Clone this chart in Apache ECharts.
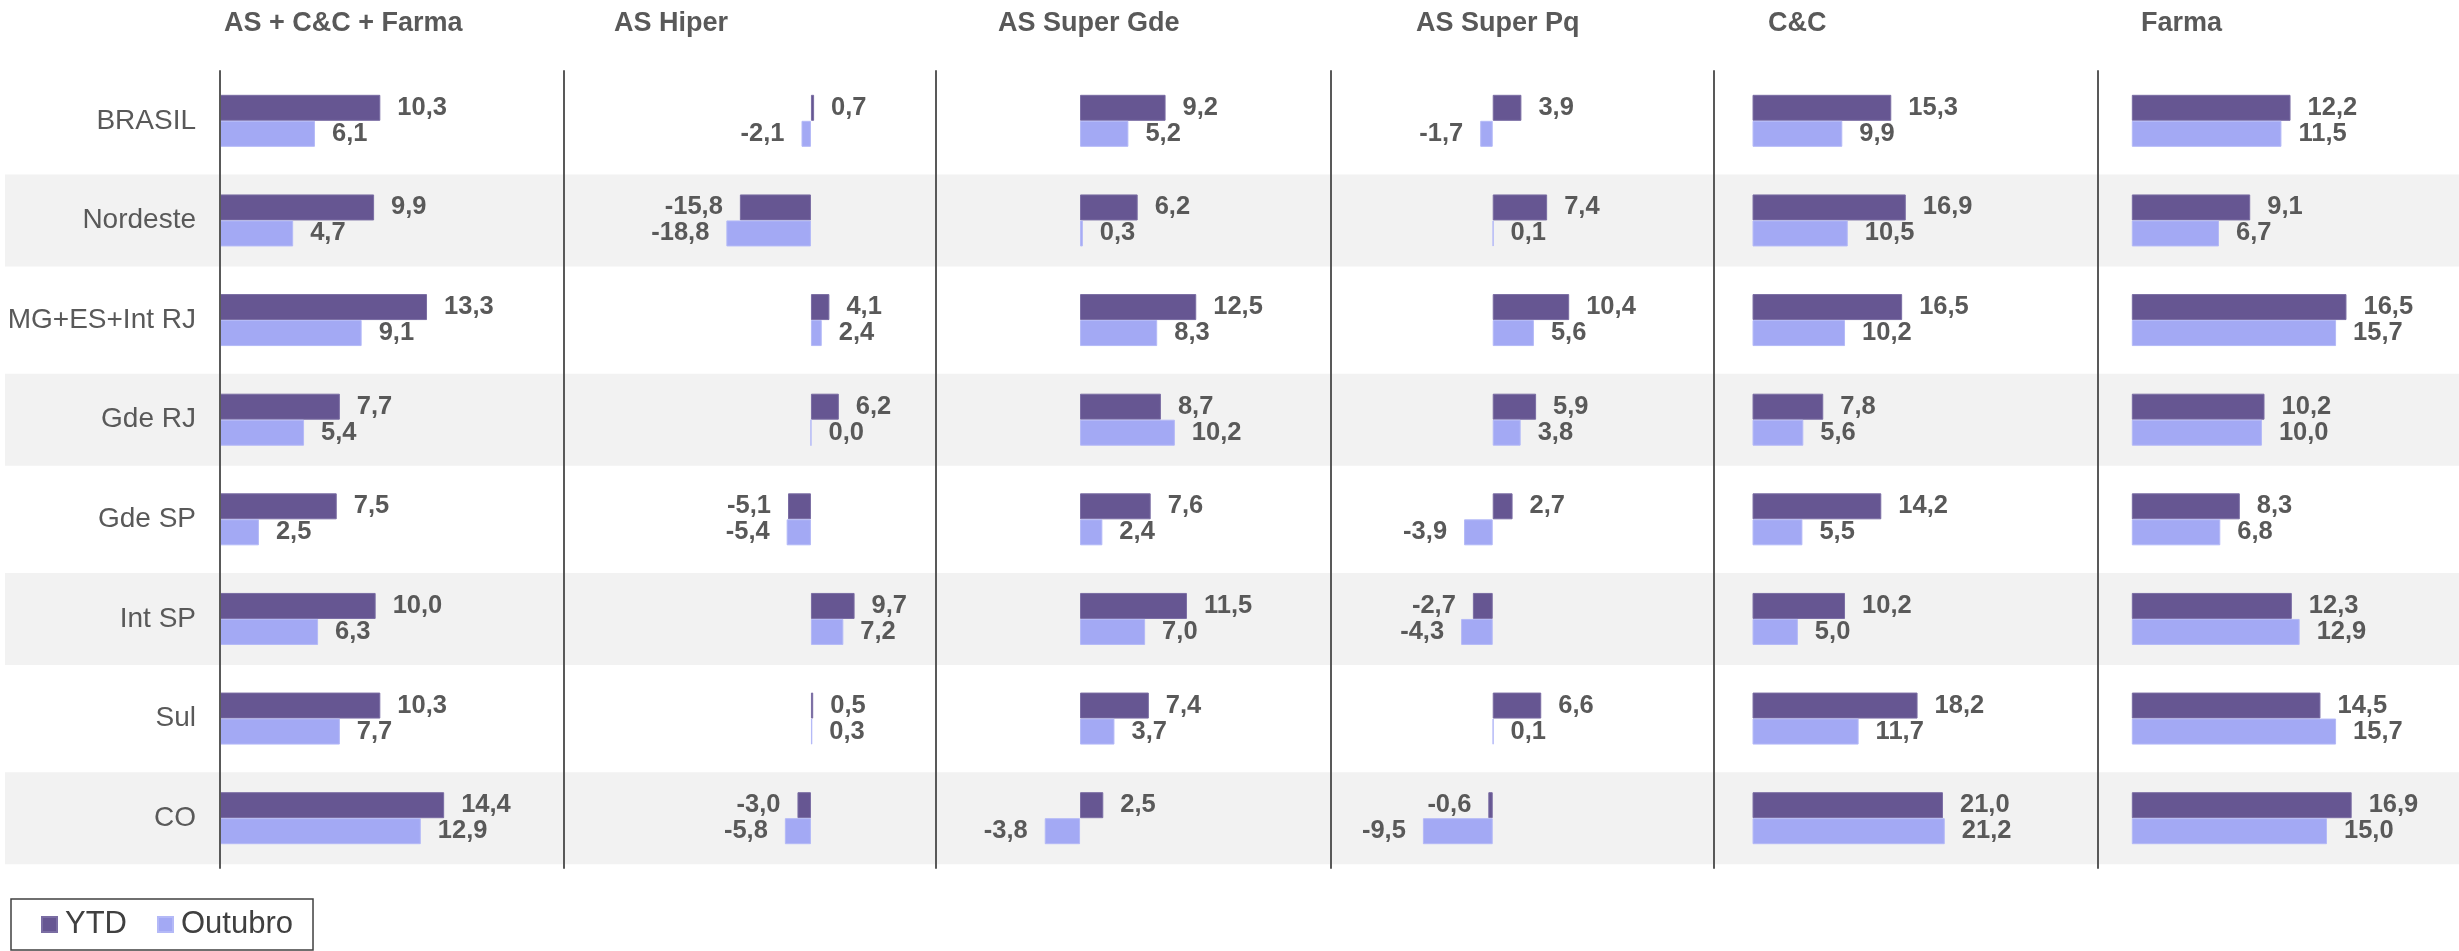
<!DOCTYPE html>
<html><head><meta charset="utf-8">
<script src="https://cdn.jsdelivr.net/npm/echarts@6/dist/echarts.min.js"></script>
<style>html,body{margin:0;padding:0;background:#fff}#c{width:2459px;height:951px}</style>
</head><body><div id="c"></div>
<script>
// ---- data ----
const categories = ['BRASIL','Nordeste','MG+ES+Int RJ','Gde RJ','Gde SP','Int SP','Sul','CO'];
const panelTitles = ['AS + C&C + Farma','AS Hiper','AS Super Gde','AS Super Pq','C&C','Farma'];
const seriesNames = ['YTD','Outubro'];

const ytdTotal  = [10.3, 9.9, 13.3, 7.7, 7.5, 10.0, 10.3, 14.4];
const outTotal  = [6.1, 4.7, 9.1, 5.4, 2.5, 6.3, 7.7, 12.9];
const ytdHiper  = [0.7, -15.8, 4.1, 6.2, -5.1, 9.7, 0.5, -3.0];
const outHiper  = [-2.1, -18.8, 2.4, 0.0, -5.4, 7.2, 0.3, -5.8];
const ytdSGde   = [9.2, 6.2, 12.5, 8.7, 7.6, 11.5, 7.4, 2.5];
const outSGde   = [5.2, 0.3, 8.3, 10.2, 2.4, 7.0, 3.7, -3.8];
const ytdSPq    = [3.9, 7.4, 10.4, 5.9, 2.7, -2.7, 6.6, -0.6];
const outSPq    = [-1.7, 0.1, 5.6, 3.8, -3.9, -4.3, 0.1, -9.5];
const ytdCC     = [15.3, 16.9, 16.5, 7.8, 14.2, 10.2, 18.2, 21.0];
const outCC     = [9.9, 10.5, 10.2, 5.6, 5.5, 5.0, 11.7, 21.2];
const ytdFarma  = [12.2, 9.1, 16.5, 10.2, 8.3, 12.3, 14.5, 16.9];
const outFarma  = [11.5, 6.7, 15.7, 10.0, 6.8, 12.9, 15.7, 15.0];

const panelYtd = [ytdTotal, ytdHiper, ytdSGde, ytdSPq, ytdCC, ytdFarma];
const panelOut = [outTotal, outHiper, outSGde, outSPq, outCC, outFarma];

// decorative alternating row shading (1 = shaded row)
const rowShade = [null, 1, null, 1, null, 1, null, 1];

// ---- layout / style ----
const FONT = '"Liberation Sans", Arial, sans-serif';
const TXT = '#595959';
const C_YTD = '#665692';
const C_OUT = '#A3A9F4';
const TOP = 71, HEIGHT = 797;
const panelLayout = [
  {left: 220,  width: 344, min: 0,     max: 22.1,  titleX: 224},
  {left: 564,  width: 372, min: -54.9, max: 27.8,  titleX: 614},
  {left: 936,  width: 395, min: -15.5, max: 27.0,  titleX: 998},
  {left: 1331, width: 383, min: -22.0, max: 30.1,  titleX: 1416},
  {left: 1714, width: 384, min: -4.25, max: 38.1,  titleX: 1768},
  {left: 2098, width: 361, min: -2.6,  max: 25.15, titleX: 2141}
];

const fmt = v => v.toFixed(1).replace('.', ',');

const grids = [{left: 5, right: 0, top: TOP, height: HEIGHT}];
const xAxes = [{gridIndex: 0, type: 'value', min: 0, max: 1, show: false}];
const yAxes = [{gridIndex: 0, type: 'category', data: categories, inverse: true, show: false}];
const series = [{
  type: 'bar', xAxisIndex: 0, yAxisIndex: 0, data: rowShade, barWidth: 92,
  itemStyle: {color: '#F2F2F2'}, silent: true, z: 0, animation: false
}];
const titles = [];

panelLayout.forEach((p, i) => {
  const gi = i + 1;
  grids.push({left: p.left, width: p.width, top: TOP, height: HEIGHT});
  xAxes.push({gridIndex: gi, type: 'value', min: p.min, max: p.max, show: false});
  yAxes.push({
    gridIndex: gi, type: 'category', data: categories, inverse: true, z: 10,
    axisLine: {show: true, onZero: false, lineStyle: {color: TXT, width: 2}},
    axisTick: {show: false},
    axisLabel: {show: i === 0, fontSize: 28, color: TXT, fontFamily: FONT, margin: 24}
  });
  [panelYtd[i], panelOut[i]].forEach((arr, k) => {
    series.push({
      name: seriesNames[k], type: 'bar', xAxisIndex: gi, yAxisIndex: gi,
      barWidth: 26, barGap: '0%', z: 3, animation: false,
      itemStyle: {color: k === 0 ? C_YTD : C_OUT, borderColor: k === 0 ? '#7A6DA3' : '#B4B9F7', borderWidth: 1},
      label: {
        show: true, distance: 17, fontSize: 25.5, fontWeight: 'bold', color: TXT, fontFamily: FONT,
        formatter: prm => fmt(prm.value)
      },
      data: arr.map(v => ({value: v, label: {position: v < 0 ? 'left' : 'right'}}))
    });
  });
  titles.push({
    text: panelTitles[i], left: p.titleX, top: 10, padding: 0,
    textStyle: {fontSize: 27, fontWeight: 'bold', color: TXT, fontFamily: FONT}
  });
});

const chart = echarts.init(document.getElementById('c'), null, {renderer: 'canvas'});
chart.setOption({
  backgroundColor: '#fff',
  animation: false,
  title: titles,
  legend: {
    data: seriesNames, left: 11, top: 899, orient: 'horizontal',
    itemWidth: 15, itemHeight: 15, itemGap: 30, icon: 'rect',
    padding: [10, 20, 10, 30], borderColor: '#404040', borderWidth: 1.5,
    textStyle: {fontSize: 31, color: '#404040', fontFamily: FONT, padding: [0, 0, 0, 3]}
  },
  grid: grids, xAxis: xAxes, yAxis: yAxes, series: series
});
</script></body></html>
